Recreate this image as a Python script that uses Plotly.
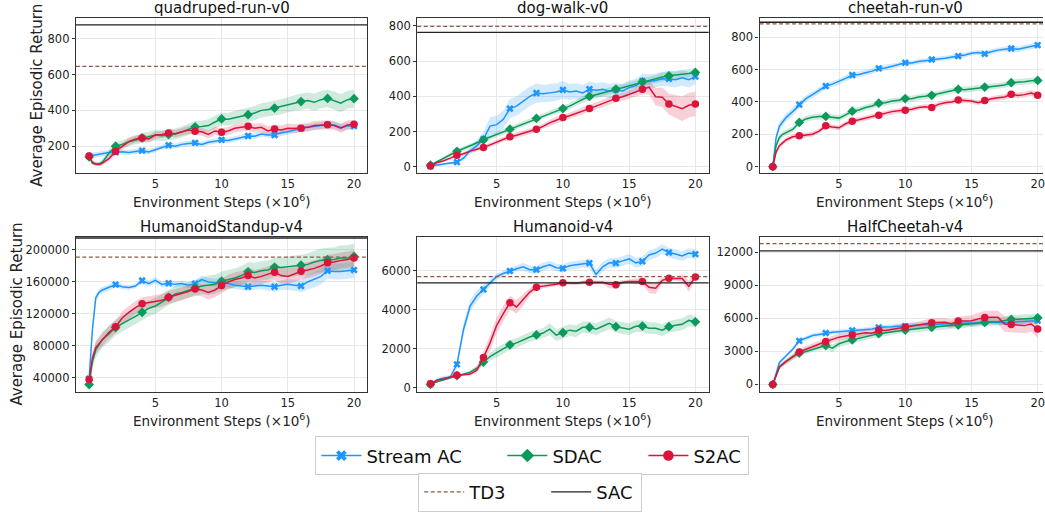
import plotly.graph_objects as go

# ---------------- data ----------------
STEPS = [0, 0.25, 0.5, 0.75, 1, 1.5, 2, 2.5, 3, 3.5, 4, 4.5, 5, 5.5, 6, 6.5, 7, 7.5, 8, 8.5,
         9, 9.5, 10, 10.5, 11, 11.5, 12, 12.5, 13, 13.5, 14, 14.5, 15, 15.5, 16, 16.5, 17, 17.5,
         18, 18.5, 19, 19.5, 20]
MARKER_STEPS = [0, 2, 4, 6, 8, 10, 12, 14, 16, 18, 20]

PANELS = ["quadruped-run-v0", "dog-walk-v0", "cheetah-run-v0",
          "HumanoidStandup-v4", "Humanoid-v4", "HalfCheetah-v4"]
ALGS = ["Stream AC", "SDAC", "S2AC"]

TD3 = [646, 797, 882, 191200, 5696, 12810]
SAC = [878, 763, 892, 215000, 5376, 12150]

YTICKS = [[200, 400, 600, 800], [0, 200, 400, 600, 800], [0, 200, 400, 600, 800],
          [40000, 80000, 120000, 160000, 200000], [0, 2000, 4000, 6000],
          [0, 3000, 6000, 9000, 12000]]
XTICKS = [5, 10, 15, 20]

# quadruped-run-v0
quad_stream = [145,148,150,155,160,165,165,168,165,170,175,168,180,195,205,200,210,215,218,210,
               222,228,235,232,240,250,257,255,268,263,262,275,280,290,300,305,310,315,320,318,305,312,312]
quad_stream_sd = [15,15,15,15,15,15,15,15,15,15,15,15,15,15,15,15,15,15,15,15,
                  15,15,15,15,15,15,15,15,15,15,18,18,18,18,18,18,18,20,20,20,20,20,20]
quad_sdac = [140,110,100,100,110,160,200,210,225,235,246,255,262,258,265,268,280,295,308,310,
             315,335,352,350,360,368,376,385,400,405,413,420,432,440,449,455,445,460,467,455,440,460,465]
quad_sdac_sd = [10,10,12,12,15,20,20,22,25,25,28,28,30,30,30,30,30,32,32,32,
                35,35,35,35,38,38,38,40,40,40,42,42,42,45,45,45,48,48,48,50,50,50,50]
quad_s2ac = [145,105,100,98,105,130,172,200,225,240,245,240,262,265,274,270,280,290,283,280,
             265,285,278,285,300,305,311,300,305,285,296,290,300,298,300,305,315,318,320,315,300,318,322]
quad_s2ac_sd = [10,10,10,10,12,15,18,20,20,20,20,20,20,20,20,20,22,22,22,22,
                22,22,22,22,22,25,25,25,25,25,25,25,25,25,25,25,25,25,25,25,25,25,25]

# dog-walk-v0
dog_stream = [5,8,10,12,15,20,28,50,93,120,158,232,240,270,331,345,375,400,419,415,
              420,425,437,425,430,420,441,435,440,430,437,430,450,460,487,485,490,500,499,495,505,495,512]
dog_stream_sd = [5,5,5,5,5,8,10,15,20,30,40,50,50,50,55,55,55,55,55,50,
                 50,50,50,45,45,45,45,40,40,40,40,40,40,40,40,40,40,40,45,45,45,45,45]
dog_sdac = [10,20,30,40,50,70,89,105,120,137,153,170,185,200,214,230,245,260,275,288,
            305,318,331,345,365,383,400,410,420,432,441,452,462,472,482,490,500,510,517,520,525,530,536]
dog_sdac_sd = [5,5,5,5,8,10,10,12,12,12,12,12,12,15,15,15,15,15,15,15,
               15,18,18,18,18,18,20,20,20,20,20,20,20,22,22,22,22,25,25,25,25,25,25]
dog_s2ac = [5,15,25,30,35,50,67,75,90,100,110,125,140,155,171,180,190,200,214,230,
            250,265,281,290,305,318,331,345,360,375,389,398,410,425,441,452,398,395,357,345,330,350,357]
dog_s2ac_sd = [5,5,5,5,5,8,10,10,10,10,10,12,12,12,15,15,15,15,15,15,
               18,18,18,18,20,20,20,20,20,22,22,22,25,25,30,40,50,55,60,65,70,70,70]

# cheetah-run-v0
cheetah_stream = [0,180,250,280,303,340,383,420,445,470,498,510,525,545,566,570,580,590,607,610,
                  620,630,642,640,650,655,662,665,670,675,683,690,700,705,697,710,720,725,730,725,735,745,751]
cheetah_stream_sd = [0,20,25,25,25,25,22,20,20,20,18,18,18,18,18,18,18,18,18,18,
                     15,15,15,15,15,15,15,15,15,15,15,15,15,15,15,15,15,15,18,18,18,18,18]
cheetah_sdac = [0,130,180,200,210,230,273,295,305,310,310,305,300,320,343,350,365,375,392,395,
                405,410,421,420,430,435,441,450,460,470,478,475,480,485,492,495,500,505,519,520,525,530,533]
cheetah_sdac_sd = [0,15,18,18,18,18,18,18,18,18,18,18,18,18,18,18,18,18,18,18,
                   18,18,18,18,18,18,18,18,18,18,18,18,18,18,18,18,18,18,20,20,20,20,20]
cheetah_s2ac = [0,90,130,150,165,185,191,195,200,220,252,245,240,265,281,290,300,310,318,330,
                340,345,349,355,365,370,365,385,395,400,412,410,405,395,408,420,425,430,447,440,445,455,441]
cheetah_s2ac_sd = [0,15,15,15,15,15,15,15,15,15,15,15,15,15,15,15,15,15,15,15,
                   15,15,15,15,15,15,15,15,15,15,15,15,15,15,15,15,18,18,18,18,18,18,18]

# HumanoidStandup-v4
hs_stream = [39000,100000,140000,147000,150000,153000,156700,154000,153000,155000,
             161800,158000,162000,157000,158400,157000,158000,156000,158000,163000,
             160000,159000,160000,158000,156000,155000,154000,155000,156000,155000,
             154000,156000,157000,156000,155000,160000,163000,167000,174000,173000,173000,174000,175000]
hs_stream_sd = [2000,5000,5000,4000,4000,4000,3000,3000,3000,3000,4000,4000,4000,4000,4000,4000,4000,4000,4000,5000,
                5000,5000,5000,5000,5000,5000,5000,5000,5000,6000,6000,6000,7000,7000,8000,9000,10000,10000,10000,10000,
                10000,10000,10000]
hs_sdac = [31600,60000,75000,82000,88000,95000,103000,108000,112000,117000,
           122000,127000,130000,135000,140800,145000,147000,150000,152500,155000,
           156000,157000,161000,163000,165000,168000,172700,172000,174000,175000,
           178600,178000,179000,180000,181000,182000,185000,187000,187800,188000,190000,190000,192000]
hs_sdac_sd = [2000,8000,10000,10000,10000,10000,10000,10000,10000,10000,10000,10000,10000,10000,10000,10000,10000,10000,10000,10000,
              12000,12000,12000,12000,12000,12000,12000,12000,12000,12000,12000,12000,13000,13000,13000,14000,14000,15000,15000,15000,
              16000,16000,16000]
hs_s2ac = [37900,65000,78000,83000,88000,97000,104000,115000,122000,128000,
           132800,134000,136000,137000,140800,143000,145000,148000,151300,150000,
           147000,150000,155500,160000,163000,165000,168000,165000,167000,170000,
           172300,168000,167000,170000,173500,175000,177000,180000,184000,185000,187000,188000,190000]
hs_s2ac_sd = [2000,6000,8000,8000,8000,8000,8000,8000,8000,8000,8000,8000,8000,8000,8000,8000,8000,8000,8000,8000,
              9000,9000,9000,9000,9000,9000,10000,10000,10000,10000,10000,10000,10000,10000,10000,10000,10000,10000,10000,10000,
              10000,10000,10000]

# Humanoid-v4
hum_stream = [200,300,400,450,500,550,1200,3000,4200,4700,5036,5400,5700,5850,5983,6100,6200,6050,6050,6200,
              6300,6150,6118,6250,6300,6350,6388,5800,6200,6400,6388,6500,6600,6400,6473,6800,6900,7100,6929,6850,
              6750,6900,6845]
hum_stream_sd = [50,80,100,100,100,100,200,300,300,300,250,200,150,150,150,150,200,200,200,200,
                 200,200,200,200,200,200,250,250,250,250,250,250,250,250,250,250,250,250,250,250,250,250,250]
hum_sdac = [170,250,300,350,400,500,625,700,800,1000,1318,1600,1800,2000,2197,2300,2450,2600,2704,2800,
            3000,2700,2822,2950,2900,3100,3093,3000,3150,3300,3126,3050,3000,3150,3160,3050,3050,2950,3126,3200,
            3250,3450,3380]
hum_sdac_sd = [30,50,50,50,50,50,50,80,100,150,200,200,250,250,250,250,250,250,250,250,
               300,300,300,300,300,300,300,300,300,300,300,300,300,300,300,300,300,300,300,300,300,300,300]
hum_s2ac = [200,300,380,420,450,550,642,660,700,900,1555,2300,3200,3800,4360,4140,4500,4900,5155,5200,
            5250,5300,5374,5350,5350,5400,5408,5400,5400,5300,5273,5400,5450,5450,5442,5150,5100,5500,5611,5600,
            5600,5200,5679]
hum_s2ac_sd = [30,50,50,50,50,50,50,50,80,150,250,400,400,400,350,350,300,200,150,100,
               100,100,100,100,100,100,100,100,100,200,200,100,100,150,150,300,300,150,100,100,200,300,150]

# HalfCheetah-v4
hc_stream = [0,1000,2000,2300,2600,3200,3960,4200,4450,4550,4680,4750,4800,4850,4920,4950,5000,5050,5190,5200,
             5250,5300,5300,5350,5400,5420,5450,5480,5500,5520,5550,5550,5550,5600,5700,5650,5650,5620,5600,5700,
             5750,5780,5800]
hc_stream_sd = [0,100,150,150,150,150,200,200,200,200,200,200,200,200,200,200,200,200,200,200,
                250,250,250,250,250,250,250,250,250,250,250,250,250,250,250,250,250,250,250,250,250,250,250]
hc_sdac = [0,900,1600,1850,2100,2500,2850,3000,3200,3400,3540,3300,3700,3900,4050,4200,4350,4500,4620,4700,
           4800,4900,4950,5020,5100,5150,5190,5250,5300,5350,5400,5450,5500,5580,5640,5680,5700,5800,5910,5930,
           5950,6000,6060]
hc_sdac_sd = [0,150,200,200,200,250,250,250,250,300,300,350,300,300,300,300,300,300,300,300,
              300,300,300,300,300,300,300,300,300,300,300,300,300,300,350,350,350,350,400,400,400,400,400]
hc_s2ac = [0,900,1600,1850,2100,2500,2940,3200,3450,3650,3900,4100,4300,4400,4500,4600,4700,4650,4950,4900,
           5000,5100,5190,5250,5350,5480,5610,5630,5650,5500,5760,5780,5800,5950,6090,6100,6100,5500,5460,5400,
           5350,5500,5040]
hc_s2ac_sd = [0,150,200,200,200,250,300,300,300,300,300,300,300,300,300,300,300,300,300,300,
              350,350,350,350,350,400,400,400,400,400,400,450,500,550,600,600,600,700,700,700,700,700,800]

MEANS = [[quad_stream, quad_sdac, quad_s2ac], [dog_stream, dog_sdac, dog_s2ac],
         [cheetah_stream, cheetah_sdac, cheetah_s2ac], [hs_stream, hs_sdac, hs_s2ac],
         [hum_stream, hum_sdac, hum_s2ac], [hc_stream, hc_sdac, hc_s2ac]]
SDS = [[quad_stream_sd, quad_sdac_sd, quad_s2ac_sd], [dog_stream_sd, dog_sdac_sd, dog_s2ac_sd],
       [cheetah_stream_sd, cheetah_sdac_sd, cheetah_s2ac_sd], [hs_stream_sd, hs_sdac_sd, hs_s2ac_sd],
       [hum_stream_sd, hum_sdac_sd, hum_s2ac_sd], [hc_stream_sd, hc_sdac_sd, hc_s2ac_sd]]

# ---------------- style ----------------
COLORS = ["#1E96FF", "#0B9A5C", "#DC143C"]
FILLS = ["rgba(30,150,255,0.2)", "rgba(11,154,92,0.2)", "rgba(220,20,60,0.2)"]
SYMBOLS = ["x", "diamond", "circle"]
MSIZES = [6.5, 7.5, 7.5]
LEGEND_WIDTHS = [131, 86, 50]
TD3_COLOR = "#8C5A48"
SAC_COLOR = "#222222"
FONT = "DejaVu Sans"

W, H = 1045, 512
COL_PX = [(76, 368), (418, 710), (761, 1045)]
ROW_PX = [(18, 174), (238, 394)]
XRANGES = [[-1, 21], [-1, 21], [-1, 20.4]]
YRANGES = [[50, 917], [-34, 845], [-39, 919], [22750, 216750], [-203, 7744], [-657, 13440]]


def px(x):
    return x / W


def py(y):
    return 1 - y / H


fig = go.Figure()
annotations = []
layout_axes = {}

for i, name in enumerate(PANELS):
    r, c = divmod(i, 3)
    n = i + 1
    xa = "x" if n == 1 else f"x{n}"
    ya = "y" if n == 1 else f"y{n}"
    for k in range(3):
        m, s = MEANS[i][k], SDS[i][k]
        upper = [a + b for a, b in zip(m, s)]
        lower = [a - b for a, b in zip(m, s)]
        fig.add_trace(go.Scatter(x=STEPS + STEPS[::-1], y=upper + lower[::-1], fill="toself",
                                 fillcolor=FILLS[k], line=dict(width=0), mode="lines",
                                 hoverinfo="skip", showlegend=False, xaxis=xa, yaxis=ya))
    for k in range(3):
        m = MEANS[i][k]
        fig.add_trace(go.Scatter(x=STEPS, y=m, mode="lines", line=dict(color=COLORS[k], width=1.5),
                                 showlegend=False, xaxis=xa, yaxis=ya))
        my = [m[STEPS.index(v)] for v in MARKER_STEPS]
        fig.add_trace(go.Scatter(x=MARKER_STEPS, y=my, mode="markers",
                                 marker=dict(color=COLORS[k], symbol=SYMBOLS[k], size=MSIZES[k]),
                                 showlegend=False, xaxis=xa, yaxis=ya))
    fig.add_shape(type="line", xref=f"{xa} domain", x0=0, x1=1, yref=ya, y0=TD3[i], y1=TD3[i],
                  line=dict(color=TD3_COLOR, width=1.2, dash="4px,2.5px"))
    fig.add_shape(type="line", xref=f"{xa} domain", x0=0, x1=1, yref=ya, y0=SAC[i], y1=SAC[i],
                  line=dict(color=SAC_COLOR, width=1.3))

    x0p, x1p = COL_PX[c]
    y0p, y1p = ROW_PX[r]
    key = "" if n == 1 else str(n)
    layout_axes["xaxis" + key] = dict(
        domain=[px(x0p), min(px(x1p), 1.0)], range=XRANGES[c], anchor=ya,
        tickvals=XTICKS, ticktext=[str(v) for v in XTICKS], showgrid=True, gridcolor="#e8e8e8",
        gridwidth=1, zeroline=False, showline=True, linecolor="#333333", linewidth=1.2,
        mirror=True, ticks="", ticklabeloverflow="allow",
        tickfont=dict(size=11.5, color="#222222", family=FONT))
    layout_axes["yaxis" + key] = dict(
        domain=[py(y1p), py(y0p)], range=YRANGES[i], anchor=xa,
        tickvals=YTICKS[i], ticktext=[str(v) for v in YTICKS[i]], showgrid=True, gridcolor="#e8e8e8",
        gridwidth=1, zeroline=False, showline=True, linecolor="#333333", linewidth=1.2,
        mirror=(c != 2), ticks="outside", ticklen=3, tickcolor="#333333", tickwidth=1,
        tickfont=dict(size=11.5, color="#222222", family=FONT))

    cx = (x0p + x1p) / 2 if c < 2 else (761 + 1053) / 2
    annotations.append(dict(text=name, x=px(cx), y=py(y0p - 10), xref="paper", yref="paper",
                            xanchor="center", yanchor="middle", showarrow=False,
                            font=dict(size=15, color="#111111", family=FONT)))
    annotations.append(dict(text="Environment Steps (×10<sup>6</sup>)", x=px(cx), y=py(y1p + 28.5),
                            xref="paper", yref="paper", xanchor="center", yanchor="middle",
                            showarrow=False, font=dict(size=13.5, color="#222222", family=FONT)))

annotations.append(dict(text="Average Episodic Return", x=px(37.5), y=py(96), xref="paper", yref="paper",
                        textangle=-90, xanchor="center", yanchor="middle", showarrow=False,
                        font=dict(size=15, color="#222222", family=FONT)))
annotations.append(dict(text="Average Episodic Return", x=px(17), y=py(315.5), xref="paper", yref="paper",
                        textangle=-90, xanchor="center", yanchor="middle", showarrow=False,
                        font=dict(size=15, color="#222222", family=FONT)))

# legend entries
for k, alg in enumerate(ALGS):
    fig.add_trace(go.Scatter(x=[None], y=[None], mode="lines+markers", name=alg,
                             line=dict(color=COLORS[k], width=1.5), legendwidth=LEGEND_WIDTHS[k],
                             marker=dict(color=COLORS[k], symbol=SYMBOLS[k], size=MSIZES[k] + 3),
                             legend="legend"))
fig.add_trace(go.Scatter(x=[None], y=[None], mode="lines", name="TD3", legendwidth=72,
                         line=dict(color=TD3_COLOR, width=1.2, dash="4px,2.5px"), legend="legend2"))
fig.add_trace(go.Scatter(x=[None], y=[None], mode="lines", name="SAC", legendwidth=40,
                         line=dict(color=SAC_COLOR, width=1.3), legend="legend2"))

fig.update_layout(
    width=W, height=H, margin=dict(l=0, r=0, t=0, b=0),
    paper_bgcolor="white", plot_bgcolor="white",
    font=dict(family=FONT, color="#222222"),
    annotations=annotations,
    legend=dict(orientation="h", x=px(316), xanchor="left", y=py(458.5), yanchor="middle",
                font=dict(size=18, family=FONT, color="#111111"), bordercolor="#cccccc",
                borderwidth=1, bgcolor="white", itemwidth=40),
    legend2=dict(orientation="h", x=px(419), xanchor="left", y=py(495), yanchor="middle",
                 font=dict(size=18, family=FONT, color="#111111"), bordercolor="#cccccc",
                 borderwidth=1, bgcolor="white", itemwidth=40),
    **layout_axes,
)

fig.write_html("out.html")
